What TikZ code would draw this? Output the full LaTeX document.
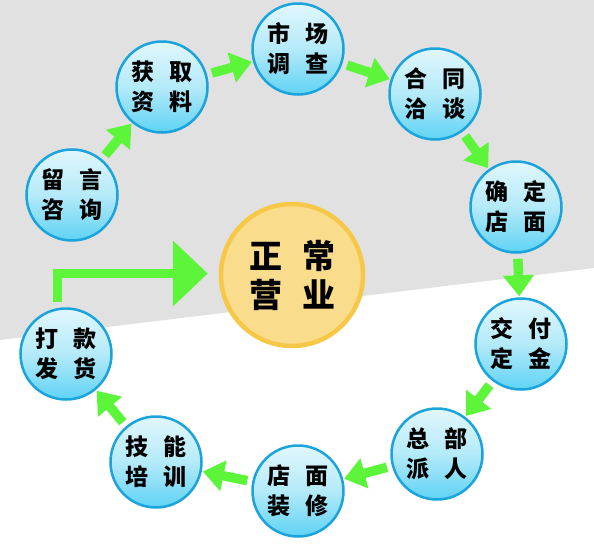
\documentclass[tikz,border=0pt]{standalone}
\usepackage{fontspec}
\newfontfamily\cjk{Noto Sans CJK SC}
\usepackage{xcolor}
\usepackage{tikz}
\usetikzlibrary{positioning, arrows.meta}
\definecolor{bggray}{HTML}{E1E1E1}
\definecolor{ringedge}{HTML}{1BA3DC}
\definecolor{ringtop}{HTML}{E2F7FD}
\definecolor{ringmid}{HTML}{B4EAF9}
\definecolor{ringbot}{HTML}{5FD3F4}
\definecolor{goldfill}{HTML}{FADD8C}
\definecolor{goldedge}{HTML}{F7C847}
\definecolor{flowgreen}{HTML}{5CF53A}
\newcommand{\fourchars}[5][14.5pt]{#2\hspace{#1}#3\\#4\hspace{#1}#5}

\begin{document}
\begin{tikzpicture}[x=1pt, y=-1pt,
    stage/.style={circle, draw=ringedge, line width=2.5pt, minimum size=91pt, inner sep=0pt,
        top color=ringtop, bottom color=ringbot, middle color=ringmid,
        font=\cjk\bfseries\fontsize{23}{30}\selectfont, align=center},
    hub/.style={circle, draw=goldedge, fill=goldfill, line width=4.5pt, minimum size=142pt, inner sep=0pt,
        font=\cjk\bfseries\fontsize{33}{39}\selectfont, align=center},
    flow/.style={draw=flowgreen, line width=9.5pt, -{Triangle[width=30pt,length=21pt]}, shorten <=5pt, shorten >=1pt},
    bigflow/.style={draw=flowgreen, line width=9pt, line join=miter, -{Triangle[width=64pt,length=35pt]}}
    ]
% background
\useasboundingbox (0,0) rectangle (594,552);
\fill[white] (0,0) rectangle (594,552);
\fill[bggray] (0,0) -- (594,0) -- (594,268) -- (0,340) -- cycle;

\node[hub] (hub) at (292,275) {\fourchars[20pt]{正}{常}{营}{业}};

\node[stage] (liuyan) at (72,195) {\fourchars{留}{言}{咨}{询}};
\node[stage] (huoqu) at (162,87) {\fourchars{获}{取}{资}{料}};
\node[stage] (shichang) at (298,49) {\fourchars{市}{场}{调}{查}};
\node[stage] (hetong) at (435,94) {\fourchars{合}{同}{洽}{谈}};
\node[stage] (queding) at (516,207) {\fourchars{确}{定}{店}{面}};
\node[stage] (jiaofu) at (521,344) {\fourchars{交}{付}{定}{金}};
\node[stage] (zongbu) at (437,454) {\fourchars{总}{部}{派}{人}};
\node[stage] (zhuangxiu) at (298,491) {\fourchars{店}{面}{装}{修}};
\node[stage] (jineng) at (156,462) {\fourchars{技}{能}{培}{训}};
\node[stage] (dakuan) at (66,354) {\fourchars{打}{款}{发}{货}};

\draw[flow] (liuyan) -- (huoqu);
\draw[flow] (huoqu) -- (shichang);
\draw[flow] (shichang) -- (hetong);
\draw[flow] (hetong) -- (queding);
\draw[flow] (queding) -- (jiaofu);
\draw[flow] (jiaofu) -- (zongbu);
\draw[flow] (zongbu) -- (zhuangxiu);
\draw[flow] (zhuangxiu) -- (jineng);
\draw[flow] (jineng) -- (dakuan);

\draw[bigflow] ([xshift=-8.5pt,yshift=5pt]dakuan.north) |- ([xshift=-11pt,yshift=1.5pt]hub.west);
\end{tikzpicture}
\end{document}
